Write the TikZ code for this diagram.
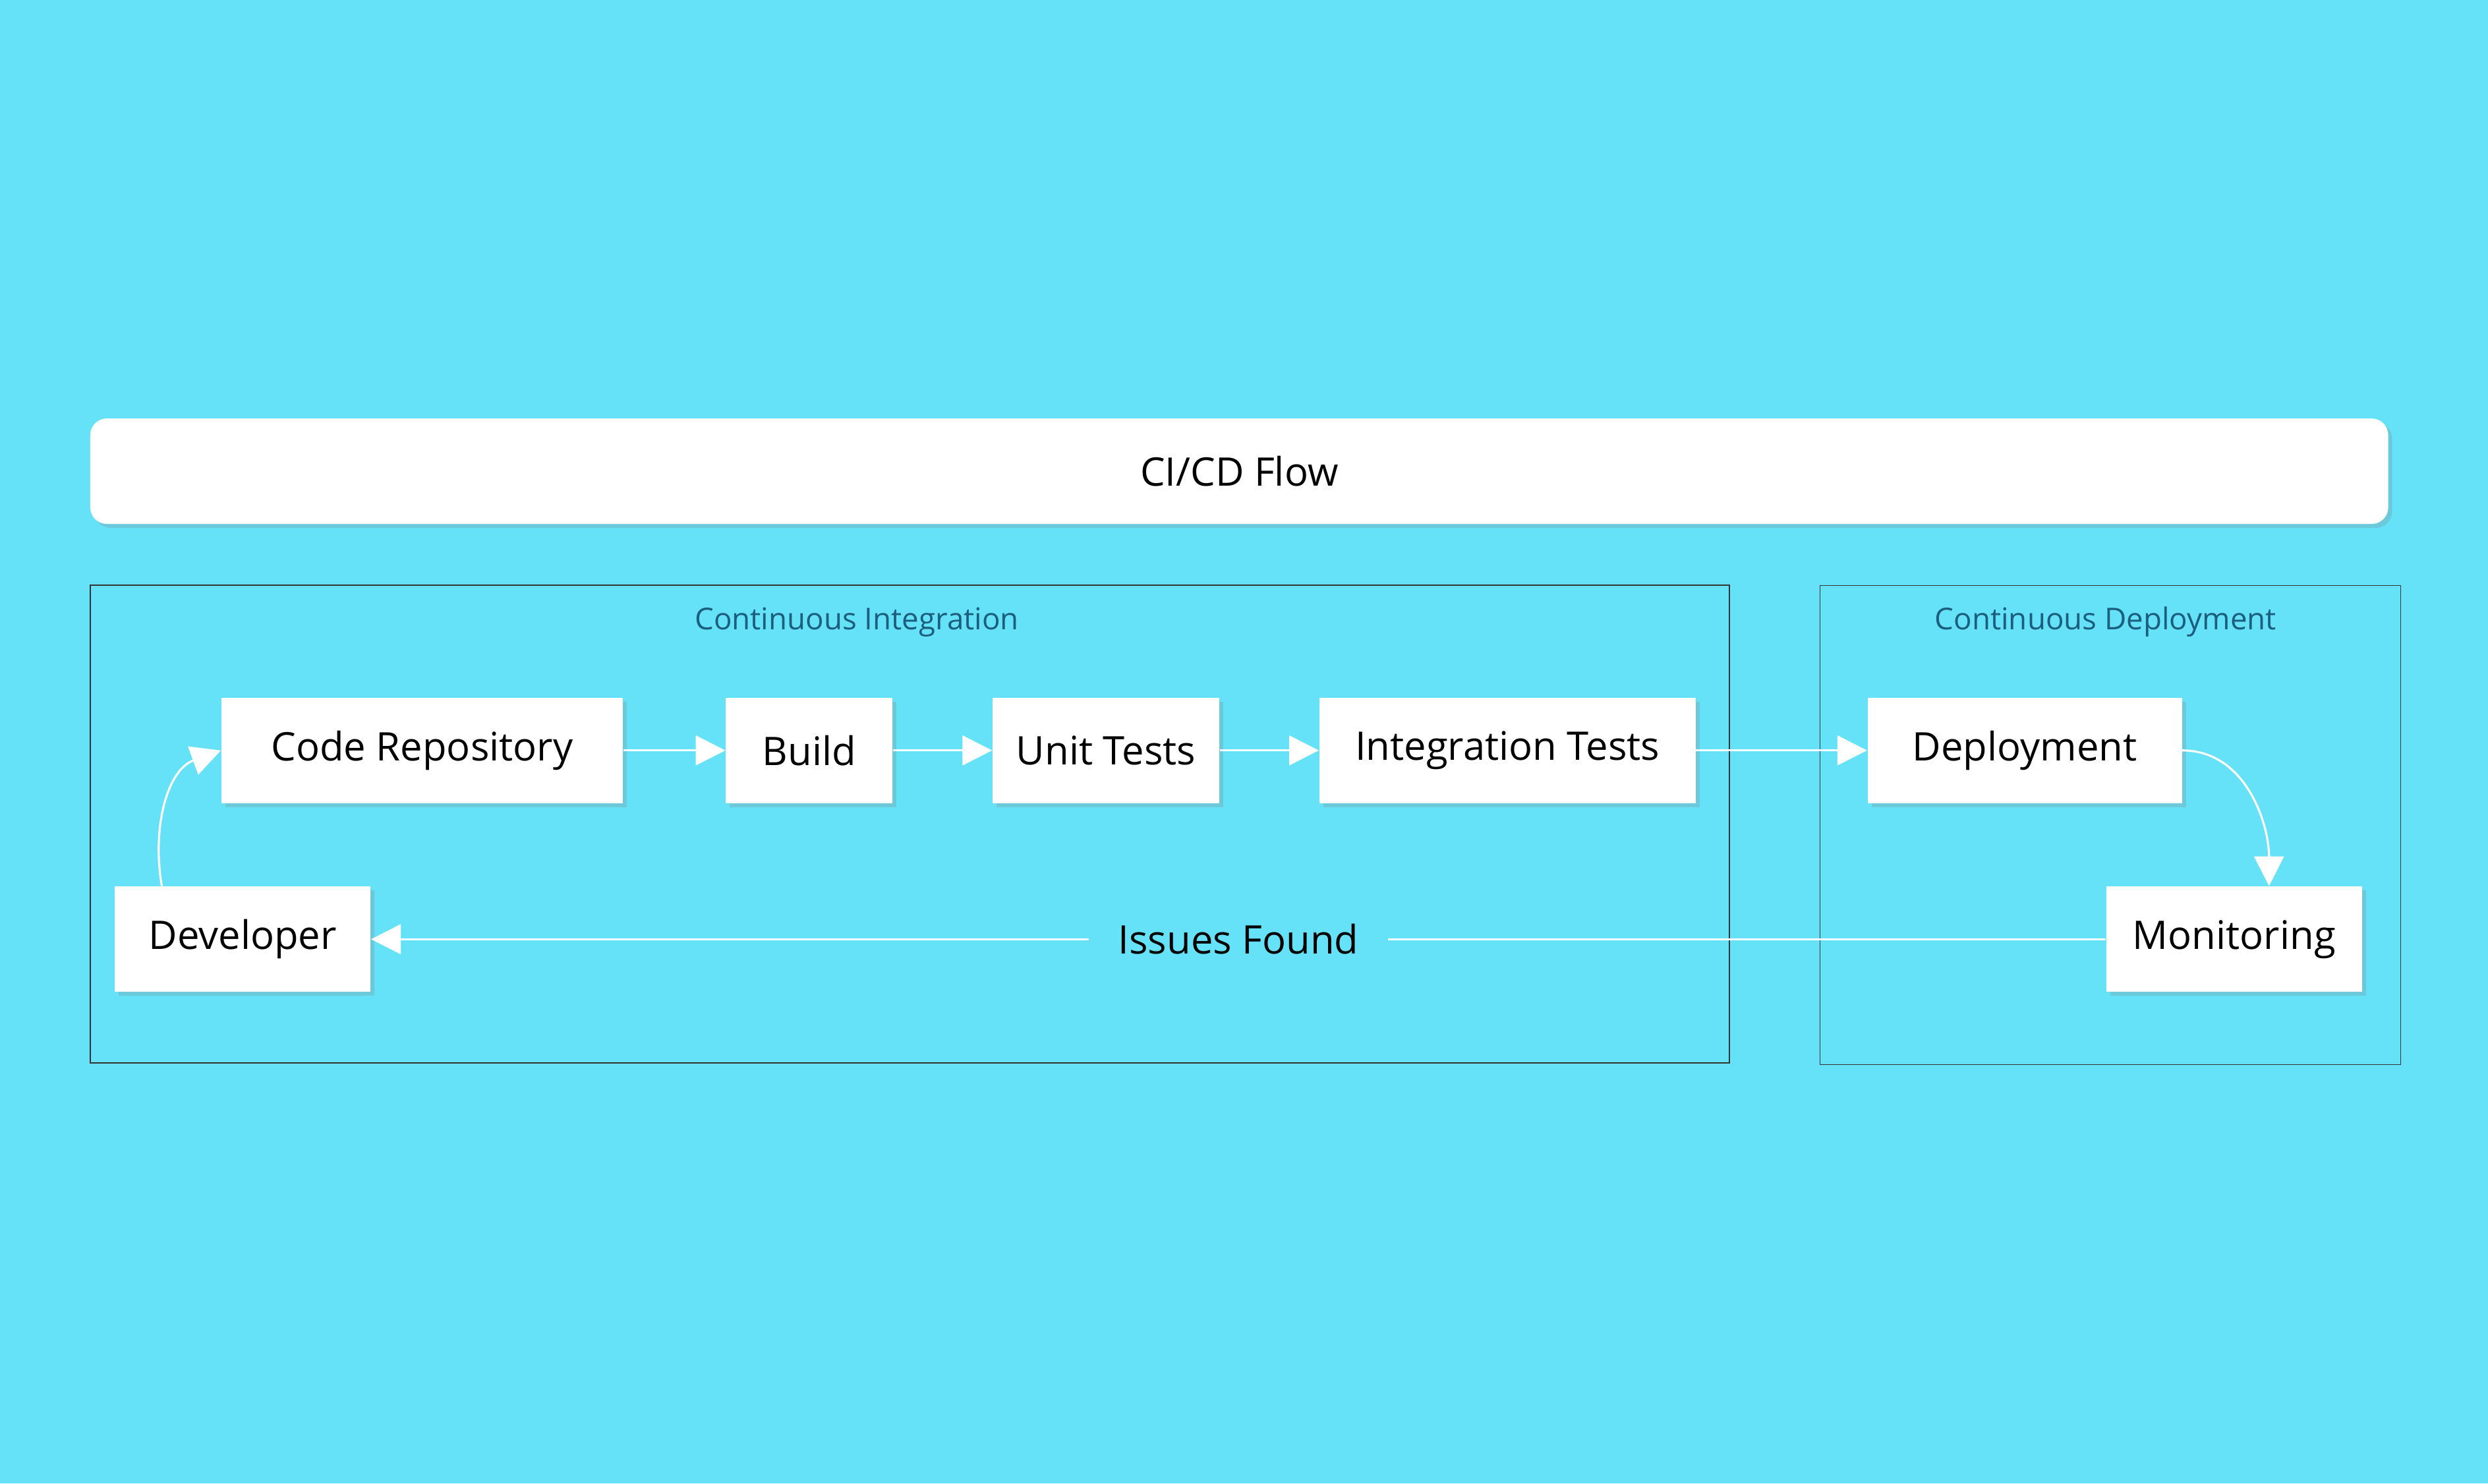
\documentclass[tikz,border=0pt]{standalone}
\usepackage{fontspec}
\setmainfont{Open Sans}
\usetikzlibrary{arrows.meta,shadows}
\definecolor{bgcyan}{HTML}{65E2F7}
\definecolor{grouptxt}{HTML}{1B5E7E}
\tikzset{
  stage/.style={draw=none,fill=white,minimum height=1.6cm,inner sep=0pt,
    font=\fontsize{17}{20}\selectfont,drop shadow={opacity=0.25,shadow xshift=0.06cm,shadow yshift=-0.06cm}},
  group/.style={draw=black!80,line width=0.5pt,inner sep=0pt},
  grouplabel/.style={text=grouptxt,font=\fontsize{13}{16}\selectfont},
  flow/.style={draw=white,line width=0.9pt,-{Triangle[length=0.45cm,width=0.45cm]}}
}
\begin{document}
\begin{tikzpicture}[x=0.02408cm,y=-0.02408cm]
\fill[bgcyan] (0,0) rectangle (1568,935);
% title bar
\node[stage,rounded corners=0.25cm,minimum width=34.87cm] (title) at (781,297) {CI/CD Flow};
% groups
\node[group,minimum width=24.87cm,minimum height=7.25cm] (ci) at (573.5,519.5) {};
\node[group,minimum width=8.81cm,minimum height=7.27cm] (cd) at (1330,520) {};
\node[grouplabel] (cilabel) at (540,392) {Continuous Integration};
\node[grouplabel] (cdlabel) at (1327,392) {Continuous Deployment};
% stages
\node[stage,minimum width=6.09cm] (repo) at (266,473) {Code Repository};
\node[stage,minimum width=2.53cm] (build) at (510,473) {Build};
\node[stage,minimum width=3.44cm] (unit) at (697,473) {Unit Tests};
\node[stage,minimum width=5.71cm] (integ) at (950,473) {Integration Tests};
\node[stage,minimum width=4.77cm] (deploy) at (1276,473) {Deployment};
\node[stage,minimum width=3.88cm] (monitor) at (1408,592) {Monitoring};
\node[stage,minimum width=3.88cm] (dev) at (153,592) {Developer};
% connectors
\draw[flow] (repo) -- (build);
\draw[flow] (build) -- (unit);
\draw[flow] (unit) -- (integ);
\draw[flow] (integ) -- (deploy);
\draw[flow] (deploy.east) to[out=0,in=90] (monitor.north -| 1430,0);
\draw[flow] (dev.north -| 102,0) to[out=100,in=200] (repo.west);
\draw[flow] (monitor.west) -- node[fill=bgcyan,inner xsep=0.45cm,font=\fontsize{17}{20}\selectfont] (issues) {Issues Found} (dev.east);
\end{tikzpicture}
\end{document}
